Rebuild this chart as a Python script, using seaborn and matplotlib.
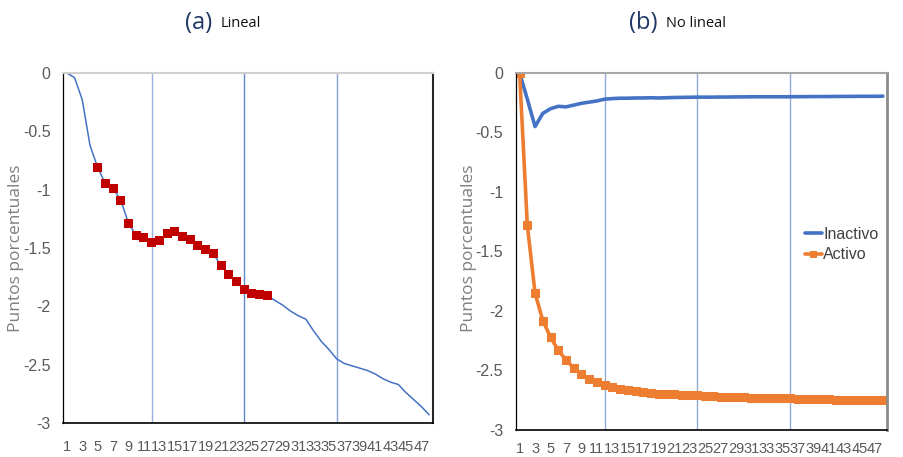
"""
Efecto en puntos porcentuales: (a) lineal, (b) no lineal
"""

import pandas as pd
import matplotlib
matplotlib.use('Agg')
import matplotlib.pyplot as plt
import seaborn as sns

# ---- datos ----
periodos = list(range(1, 49))

lineal = [0, -0.04, -0.23, -0.62, -0.81, -0.95, -0.99, -1.09, -1.29, -1.39,
          -1.41, -1.45, -1.44, -1.38, -1.36, -1.40, -1.43, -1.48, -1.51, -1.55,
          -1.65, -1.73, -1.79, -1.86, -1.89, -1.90, -1.91, -1.95, -1.99, -2.04,
          -2.08, -2.11, -2.21, -2.30, -2.37, -2.45, -2.49, -2.51, -2.53, -2.55,
          -2.58, -2.62, -2.65, -2.67, -2.74, -2.80, -2.86, -2.93]
# periodos con marcador rojo
marcados = list(range(5, 28))

inactivo = [0, -0.22, -0.45, -0.34, -0.30, -0.28, -0.285, -0.27, -0.255, -0.245,
            -0.235, -0.22, -0.215, -0.212, -0.212, -0.21, -0.21, -0.208, -0.21, -0.208,
            -0.206, -0.205, -0.204, -0.203, -0.203, -0.203, -0.202, -0.202, -0.201, -0.201,
            -0.2, -0.2, -0.2, -0.2, -0.2, -0.2, -0.199, -0.199, -0.198, -0.198,
            -0.198, -0.197, -0.197, -0.197, -0.196, -0.196, -0.196, -0.195]
activo = [0, -1.28, -1.85, -2.08, -2.22, -2.33, -2.41, -2.48, -2.53, -2.57,
          -2.60, -2.62, -2.64, -2.655, -2.665, -2.675, -2.68, -2.69, -2.695, -2.70,
          -2.70, -2.705, -2.71, -2.71, -2.715, -2.715, -2.72, -2.72, -2.725, -2.725,
          -2.73, -2.73, -2.73, -2.735, -2.735, -2.735, -2.74, -2.74, -2.74, -2.74,
          -2.742, -2.744, -2.745, -2.746, -2.747, -2.748, -2.749, -2.75]

cortes = [12, 24, 36]
yticks = [0, -0.5, -1, -1.5, -2, -2.5, -3]
ytick_labels = ['0', '-0.5', '-1', '-1.5', '-2', '-2.5', '-3']

AZUL = '#4472C4'
NARANJA = '#ED7D31'
ROJO = '#C00000'
GRIS = '#595959'

sns.set_style('white')
plt.rcParams['font.family'] = ['Liberation Sans Narrow', 'Liberation Sans', 'DejaVu Sans']

df_a = pd.DataFrame({'periodo': periodos, 'valor': lineal})
df_m = df_a[df_a['periodo'].isin(marcados)]
df_b = pd.DataFrame({'periodo': periodos * 2,
                     'valor': inactivo + activo,
                     'serie': ['Inactivo'] * 48 + ['Activo'] * 48})

fig = plt.figure(figsize=(9.04, 4.57), dpi=100)
ax1 = fig.add_axes([0.0697, 0.0744, 0.4093, 0.7659])
ax2 = fig.add_axes([0.5705, 0.0591, 0.4104, 0.7812])

# (a) lineal
sns.lineplot(data=df_a, x='periodo', y='valor', ax=ax1, color=AZUL, linewidth=1.1)
sns.scatterplot(data=df_m, x='periodo', y='valor', ax=ax1, marker='s', s=42,
                color=ROJO, edgecolor='none', zorder=4)
for c, a in zip(cortes, [0.55, 0.85, 0.65]):
    ax1.axvline(c, color=AZUL, linewidth=1.0, alpha=a, zorder=1)

# (b) no lineal
sns.lineplot(data=df_b[df_b['serie'] == 'Inactivo'], x='periodo', y='valor', ax=ax2,
             color=AZUL, linewidth=2.6, label='Inactivo')
sns.lineplot(data=df_b[df_b['serie'] == 'Activo'], x='periodo', y='valor', ax=ax2,
             color=NARANJA, linewidth=2.6, marker='s', markersize=6,
             markeredgecolor=NARANJA, label='Activo')
for c in cortes:
    ax2.axvline(c, color=AZUL, linewidth=1.0, alpha=0.6, zorder=1)

for ax in (ax1, ax2):
    ax.set_xlim(0.5, 48.5)
    ax.set_ylim(-3, 0)
    ax.set_yticks(yticks)
    ax.set_yticklabels(ytick_labels)
    ax.set_xticks(periodos[::2])
    ax.set_xticklabels([str(p) for p in periodos[::2]])
    ax.tick_params(axis='both', length=0, colors=GRIS)
    ax.tick_params(axis='y', pad=9, labelsize=11.5)
    ax.tick_params(axis='x', labelsize=10.5)
    ax.set_xlabel('')
    ax.set_ylabel('Puntos porcentuales', fontsize=12.5, color='#7F7F7F', labelpad=-1,
                  family=['Open Sans', 'DejaVu Sans'])
    ax.grid(False)
    ax.spines['left'].set_color('#000000')
    ax.spines['left'].set_linewidth(0.9)
    ax.spines['bottom'].set_color('#000000')
    ax.spines['bottom'].set_linewidth(1.2)

ax1.tick_params(axis='x', pad=12)
ax2.tick_params(axis='x', pad=9)

ax1.spines['top'].set_color('#D0D0D0')
ax1.spines['top'].set_linewidth(1.5)
ax1.spines['right'].set_color('#262626')
ax1.spines['right'].set_linewidth(1.5)
ax2.spines['top'].set_color('#A6A6A6')
ax2.spines['top'].set_linewidth(1.5)
ax2.spines['right'].set_color('#8C8C8C')
ax2.spines['right'].set_linewidth(2.0)
ax1.yaxis.label.set_position((0, 0.50))
ax2.yaxis.label.set_position((0, 0.51))

leg = ax2.legend(loc='center left', bbox_to_anchor=(0.74, 0.52), frameon=False,
                 fontsize=11.5, handlelength=1.1, handletextpad=0.05, labelspacing=0.35,
                 markerscale=0.8)
for t in leg.get_texts():
    t.set_color('#404040')

# titulos
TIT = '#1F3864'
fig.text(212 / 904, 0.950, '(a)', ha='right', va='center', fontsize=17, color=TIT,
         family=['Open Sans', 'DejaVu Sans'])
fig.text(221 / 904, 0.948, 'Lineal', ha='left', va='center', fontsize=10.5, color='#111111',
         family=['Open Sans', 'DejaVu Sans'])
fig.text(657 / 904, 0.950, '(b)', ha='right', va='center', fontsize=17, color=TIT,
         family=['Open Sans', 'DejaVu Sans'])
fig.text(666 / 904, 0.948, 'No lineal', ha='left', va='center', fontsize=10.5, color='#111111',
         family=['Open Sans', 'DejaVu Sans'])

plt.savefig('out.png', dpi=100)
plt.close()
